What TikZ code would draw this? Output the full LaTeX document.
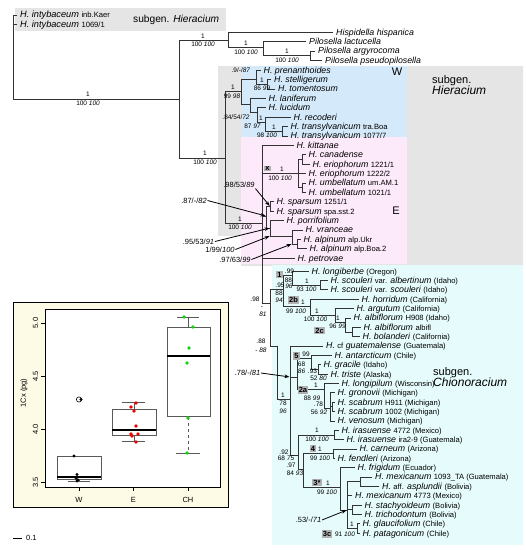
\documentclass[tikz,border=0pt]{standalone}
\usepackage{fontspec}
\setmainfont{Liberation Sans}
\usetikzlibrary{arrows.meta}

\definecolor{hiergray}{RGB}{229,229,229}
\definecolor{wblue}{RGB}{212,234,250}
\definecolor{epink}{RGB}{252,233,250}
\definecolor{chcyan}{RGB}{230,251,251}
\definecolor{cream}{RGB}{253,251,229}
\definecolor{cladegray}{RGB}{178,178,178}
\definecolor{dotred}{RGB}{240,0,0}
\definecolor{dotgreen}{RGB}{20,210,20}

\newcommand{\tx}[1]{\textit{#1}}
\newcommand{\nt}[1]{{\fontsize{7.6}{8}\selectfont #1}}
\newcommand{\sgname}[1]{{\fontsize{12}{12}\selectfont\textit{#1}}}

\tikzset{
  leaf/.style={anchor=west,inner xsep=3pt,inner ysep=0pt,text height=6pt,text depth=0pt,
    font=\fontsize{8.8}{9}\selectfont},
  supp/.style={inner sep=0pt,font=\fontsize{6.5}{7}\selectfont},
  clade/.style={fill=cladegray,inner sep=1.2pt,font=\bfseries\fontsize{7.5}{8}\selectfont},
  subg/.style={inner sep=0pt,font=\fontsize{11}{11.5}\selectfont},
  branch/.style={line width=.6pt,black!80,line cap=rect},
  pointer/.style={line width=.8pt,-{Stealth[length=5pt,width=3.6pt]},shorten >=.5pt},
  ptlab/.style={inner sep=.6pt,font=\fontsize{7.5}{8}\selectfont},
  axlab/.style={inner sep=0pt,font=\fontsize{7.5}{8}\selectfont},
  boxl/.style={line width=.6pt,black!65},
}

\begin{document}
\begin{tikzpicture}[x=1pt,y=-1pt]
\useasboundingbox (0,0) rectangle (526,550);

% shaded groups
\fill[hiergray] (15,8) rectangle (226,31);
\fill[hiergray] (218,66) -- (523,66) -- (523,266) -- (241,266) -- (241,236) -- (218,236) -- cycle;
\fill[wblue] (242,66) rectangle (407,137);
\fill[epink] (241,137) rectangle (407,264);
\fill[chcyan] (272,265) rectangle (523,545);

\node[subg,anchor=west,font=\fontsize{10.2}{11}\selectfont] (sgtop) at (133,19.5) {subgen. \textit{Hieracium}};
\node[subg,anchor=north west,align=left] (sghier) at (432,75) {subgen.\\\sgname{Hieracium}};
\node[subg,anchor=north west,align=left] (sgchio) at (433,367) {subgen.\\\sgname{Chionoracium}};
\node[subg] (lw) at (397,72) {W};
\node[subg] (le) at (396,210.5) {E};

% internal nodes
\coordinate (root) at (13,24.2);
\coordinate (nA) at (179,99);
\coordinate (nP0) at (228,40);
\coordinate (nP1) at (263,47.5);
\coordinate (nP2) at (310,55.4);
\coordinate (nH) at (225,158);
\coordinate (nW) at (241,91.5);
\coordinate (nWp) at (256,79.4);
\coordinate (nWs) at (267,84.1);
\coordinate (nWl) at (250,104);
\coordinate (nWm) at (257,112);
\coordinate (nWr) at (265,122);
\coordinate (nWt) at (282,131.1);
\coordinate (nE) at (262,223);
\coordinate (nX) at (298,173.4);
\coordinate (nCa) at (302,159.3);
\coordinate (nU) at (302,187.5);
\coordinate (nSp) at (270,206.3);
\coordinate (nEa) at (266,216);
\coordinate (nEb) at (270,228);
\coordinate (nEc) at (292,236);
\coordinate (nAlp) at (297,243.9);
\coordinate (nC0) at (270,303);
\coordinate (nCu) at (283,289);
\coordinate (n1) at (292,275.5);
\coordinate (nSc) at (320,285);
\coordinate (n2b) at (310,306);
\coordinate (n2b1) at (335,315);
\coordinate (n2b2) at (345,322);
\coordinate (n2c) at (352,331.9);
\coordinate (nCl) at (277,345.9);
\coordinate (nL) at (290,399);
\coordinate (nC52) at (297,377);
\coordinate (n5) at (311,358);
\coordinate (nGt) at (318,369.3);
\coordinate (n2a) at (324,389.5);
\coordinate (nGr) at (330,408);
\coordinate (nScb) at (332.5,406.7);
\coordinate (nLo) at (298,455);
\coordinate (nIr) at (334,434.8);
\coordinate (n34) at (303,469);
\coordinate (n4) at (333,453.5);
\coordinate (n3) at (340,487);
\coordinate (nM) at (347,510);
\coordinate (nMx) at (360,481.6);
\coordinate (nSt) at (352,509.7);
\coordinate (n3c) at (357,528.4);

% outgroups
\node[leaf,font=\fontsize{9.2}{9}\selectfont] (inb) at (17,14.8) {\tx{H. intybaceum} \nt{inb.Kaer}};
\node[leaf,font=\fontsize{9.2}{9}\selectfont] (i1069) at (17,24.2) {\tx{H. intybaceum} \nt{1069/1}};
\node[leaf] (hisp) at (333,32.3) {\tx{Hispidella hispanica}};
\node[leaf] (plac) at (306,41.5) {\tx{Pilosella lactucella}};
\node[leaf] (parg) at (315,50.8) {\tx{Pilosella argyrocoma}};
\node[leaf] (ppse) at (322,60) {\tx{Pilosella pseudopilosella}};

% W
\node[leaf] (pren) at (260.5,70) {\tx{H. prenanthoides}};
\node[leaf] (stel) at (271,79.4) {\tx{H. stelligerum}};
\node[leaf] (tome) at (275,88.8) {\tx{H. tomentosum}};
\node[leaf] (lani) at (265.5,98.2) {\tx{H. laniferum}};
\node[leaf] (luci) at (265.5,107.6) {\tx{H. lucidum}};
\node[leaf] (reco) at (290.5,117) {\tx{H. recoderi}};
\node[leaf] (trab) at (287.5,126.4) {\tx{H. transylvanicum} \nt{tra.Boa}};
\node[leaf] (tr77) at (287.5,135.8) {\tx{H. transylvanicum} \nt{1077/7}};

% E
\node[leaf] (kitt) at (293.5,145.2) {\tx{H. kittanae}};
\node[leaf] (cana) at (305.5,154.6) {\tx{H. canadense}};
\node[leaf] (er21) at (309.5,164) {\tx{H. eriophorum} \nt{1221/1}};
\node[leaf] (er22) at (305.5,173.4) {\tx{H. eriophorum} \nt{1222/2}};
\node[leaf] (umam) at (305.5,182.8) {\tx{H. umbellatum} \nt{um.AM.1}};
\node[leaf] (um21) at (305.5,192.2) {\tx{H. umbellatum} \nt{1021/1}};
\node[leaf] (sp51) at (273.5,201.6) {\tx{H. sparsum} \nt{1251/1}};
\node[leaf] (spss) at (273.5,211) {\tx{H. sparsum} \nt{spa.sst.2}};
\node[leaf] (porr) at (283.5,220.4) {\tx{H. porrifolium}};
\node[leaf] (vran) at (302.5,229.8) {\tx{H. vranceae}};
\node[leaf] (alpu) at (300.5,239.2) {\tx{H. alpinum} \nt{alp.Ukr}};
\node[leaf] (alpb) at (306.5,248.6) {\tx{H. alpinum} \nt{alp.Boa.2}};
\node[leaf] (petr) at (294.5,258) {\tx{H. petrovae}};

% Chionoracium
\node[leaf] (long) at (308.5,271) {\tx{H. longiberbe} \nt{(Oregon)}};
\node[leaf] (albe) at (327.5,280.4) {\tx{H. scouleri} \nt{var.} \tx{albertinum} \nt{(Idaho)}};
\node[leaf] (scou) at (327.5,289.7) {\tx{H. scouleri} \nt{var.} \tx{scouleri} \nt{(Idaho)}};
\node[leaf] (horr) at (358.5,299.1) {\tx{H. horridum} \nt{(California)}};
\node[leaf] (argu) at (353.5,308.4) {\tx{H. argutum} \nt{(California)}};
\node[leaf] (a908) at (350.5,317.8) {\tx{H. albiflorum} \nt{H908 (Idaho)}};
\node[leaf] (aalb) at (360.5,327.2) {\tx{H. albiflorum} \nt{albifl}};
\node[leaf] (bola) at (359.5,336.5) {\tx{H. bolanderi} \nt{(California)}};
\node[leaf] (guat) at (323,345.9) {\tx{H.} \nt{cf} \tx{guatemalense} \nt{(Guatemala)}};
\node[leaf] (anta) at (331.5,355.2) {\tx{H. antarcticum} \nt{(Chile)}};
\node[leaf] (grac) at (320.5,364.6) {\tx{H. gracile} \nt{(Idaho)}};
\node[leaf] (tris) at (327.5,374) {\tx{H. triste} \nt{(Alaska)}};
\node[leaf] (lopi) at (338.5,383.3) {\tx{H. longipilum} \nt{(Wisconsin)}};
\node[leaf] (gron) at (334.5,392.7) {\tx{H. gronovii} \nt{(Michigan)}};
\node[leaf] (sc11) at (334.5,402) {\tx{H. scabrum} \nt{H911 (Michigan)}};
\node[leaf] (sc02) at (334.5,411.4) {\tx{H. scabrum} \nt{1002 (Michigan)}};
\node[leaf] (veno) at (334.5,420.8) {\tx{H. venosum} \nt{(Michigan)}};
\node[leaf] (ir72) at (338.5,430.1) {\tx{H. irasuense} \nt{4772 (Mexico)}};
\node[leaf] (ir29) at (343.5,439.5) {\tx{H. irasuense} \nt{ira2-9 (Guatemala)}};
\node[leaf] (carn) at (356.5,448.8) {\tx{H. carneum} \nt{(Arizona)}};
\node[leaf] (fend) at (334.5,458.2) {\tx{H. fendleri} \nt{(Arizona)}};
\node[leaf] (frig) at (354.5,467.6) {\tx{H. frigidum} \nt{(Ecuador)}};
\node[leaf] (mx93) at (372,476.9) {\tx{H. mexicanum} \nt{1093\_TA (Guatemala)}};
\node[leaf] (aspl) at (379,486.3) {\tx{H.} \nt{aff.} \tx{asplundii} \nt{(Bolivia)}};
\node[leaf] (mx73) at (352,495.6) {\tx{H. mexicanum} \nt{4773 (Mexico)}};
\node[leaf] (stac) at (361.5,505) {\tx{H. stachyoideum} \nt{(Bolivia)}};
\node[leaf] (tric) at (361.5,514.4) {\tx{H. trichodontum} \nt{(Bolivia)}};
\node[leaf] (glau) at (359.5,523.7) {\tx{H. glaucifolium} \nt{(Chile)}};
\node[leaf] (pata) at (359.5,533.1) {\tx{H. patagonicum} \nt{(Chile)}};

% branches
\draw[branch] (root) |- (inb.west) (root) |- (i1069.west) (root) |- (nA);
\draw[branch] (nA) |- (nP0) (nA) |- (nH);
\draw[branch] (nP0) |- (hisp.west) (nP0) |- (nP1);
\draw[branch] (nP1) |- (plac.west) (nP1) |- (nP2);
\draw[branch] (nP2) |- (parg.west) (nP2) |- (ppse.west);
\draw[branch] (nH) |- (nW) (nH) |- (nE);
\draw[branch] (nW) |- (nWp) (nW) |- (nWl);
\draw[branch] (nWp) |- (pren.west) (nWp) |- (nWs);
\draw[branch] (nWs) |- (stel.west) (nWs) |- (tome.west);
\draw[branch] (nWl) |- (lani.west) (nWl) |- (nWm);
\draw[branch] (nWm) |- (luci.west) (nWm) |- (nWr);
\draw[branch] (nWr) |- (reco.west) (nWr) |- (nWt);
\draw[branch] (nWt) |- (trab.west) (nWt) |- (tr77.west);
\draw[branch] (nE) |- (kitt.west) (nE) |- (nX) (nE) |- (nEa) (nE) |- (petr.west) (nE) |- (nC0);
\draw[branch] (nX) |- (nCa) (nX) |- (er22.west) (nX) |- (nU);
\draw[branch] (nCa) |- (cana.west) (nCa) |- (er21.west);
\draw[branch] (nU) |- (umam.west) (nU) |- (um21.west);
\draw[branch] (nEa) |- (nSp) (nEa) |- (nEb);
\draw[branch] (nSp) |- (sp51.west) (nSp) |- (spss.west);
\draw[branch] (nEb) |- (porr.west) (nEb) |- (nEc);
\draw[branch] (nEc) |- (vran.west) (nEc) |- (nAlp);
\draw[branch] (nAlp) |- (alpu.west) (nAlp) |- (alpb.west);
\draw[branch] (nC0) |- (nCu) (nC0) |- (nCl);
\draw[branch] (nCu) |- (n1) (nCu) |- (n2b);
\draw[branch] (n1) |- (long.west) (n1) |- (nSc);
\draw[branch] (nSc) |- (albe.west) (nSc) |- (scou.west);
\draw[branch] (n2b) |- (horr.west) (n2b) |- (n2b1);
\draw[branch] (n2b1) |- (argu.west) (n2b1) |- (n2b2);
\draw[branch] (n2b2) |- (a908.west) (n2b2) |- (n2c);
\draw[branch] (n2c) |- (aalb.west) (n2c) |- (bola.west);
\draw[branch] (nCl) |- (nL);
\draw[branch] (nL) |- (guat.west) (nL) |- (nC52) (nL) |- (nLo);
\draw[branch] (nC52) |- (n5) (nC52) |- (n2a);
\draw[branch] (n5) |- (anta.west) (n5) |- (nGt);
\draw[branch] (nGt) |- (grac.west) (nGt) |- (tris.west);
\draw[branch] (n2a) |- (lopi.west) (n2a) |- (nGr);
\draw[branch] (nGr) |- (gron.west) (nGr) |- (nScb) (nGr) |- (veno.west);
\draw[branch] (nScb) |- (sc11.west) (nScb) |- (sc02.west);
\draw[branch] (nLo) |- (nIr) (nLo) |- (n34);
\draw[branch] (nIr) |- (ir72.west) (nIr) |- (ir29.west);
\draw[branch] (n34) |- (n4) (n34) |- (n3);
\draw[branch] (n4) |- (carn.west) (n4) |- (fend.west);
\draw[branch] (n3) |- (frig.west) (n3) |- (nM);
\draw[branch] (nM) |- (nMx) (nM) |- (mx73.west) (nM) |- (nSt) (nM) |- (n3c);
\draw[branch] (nMx) |- (mx93.west) (nMx) |- (aspl.west);
\draw[branch] (nSt) |- (stac.west) (nSt) |- (tric.west);
\draw[branch] (n3c) |- (glau.west) (n3c) |- (pata.west);

% support values
\node[supp] (sRa) at (88,94.5) {1};
\node[supp] (sRb) at (88,103.5) {100 \tx{100}};
\node[supp] (sP0a) at (203,36) {1};
\node[supp] (sP0b) at (203,44.5) {100 \tx{100}};
\node[supp] (sP1a) at (246,43.5) {1};
\node[supp] (sP1b) at (246,52) {100 \tx{100}};
\node[supp] (sP2a) at (287,51) {1};
\node[supp] (sP2b) at (287,60) {100 \tx{100}};
\node[supp] (sHa) at (205,153.5) {1};
\node[supp] (sHb) at (205,162.5) {100 \tx{100}};
\node[supp] (sWa) at (233,87.5) {1};
\node[supp] (sWb) at (232,96) {99 \tx{98}};
\node[supp] (sWp) at (241,70) {.9/-/\tx{87}};
\node[supp] (sWsa) at (262,80.5) {1};
\node[supp] (sWsb) at (262,88.5) {86 \tx{99}};
\node[supp] (sWl) at (236,117.5) {.84/54/\tx{72}};
\node[supp] (sWra) at (261,118.5) {1};
\node[supp] (sWrb) at (252.5,126.5) {87 \tx{97}};
\node[supp] (sWta) at (274,127.5) {1};
\node[supp] (sWtb) at (267,135.5) {98 \tx{100}};
\node[supp] (sEa) at (240,219) {1};
\node[supp] (sEb) at (240,227.5) {100 \tx{100}};
\node[clade,inner sep=1pt] (bx) at (267.5,168.5) {x};
\node[supp] (sXa) at (282,169.5) {1};
\node[supp] (sXb) at (280,178) {100 \tx{100}};

\node[supp] (sC0a) at (255,299) {.98};
\node[supp] (sC0b) at (262,307.5) {-};
\node[supp] (sC0c) at (263,314.5) {\tx{81}};
\node[supp] (sCua) at (280,285.5) {.95};
\node[supp] (sCub) at (279,293.5) {88};
\node[supp] (sCuc) at (279,300.5) {\tx{94}};
\node[clade] (b1) at (279.5,274.5) {1};
\node[supp] (s1a) at (289.5,271.5) {.99};
\node[supp] (s1b) at (288.5,280) {88};
\node[supp] (s1c) at (289,286.5) {\tx{96}};
\node[supp] (sSca) at (307,281) {1};
\node[supp] (sScb) at (306.5,289.5) {93 \tx{100}};
\node[clade] (b2b) at (293.5,300) {2b};
\node[supp] (s2ba) at (303,302) {1};
\node[supp] (s2bb) at (296,311) {99 \tx{100}};
\node[supp] (s2b1a) at (317,311) {1};
\node[supp] (s2b1b) at (315.5,319.5) {100 \tx{100}};
\node[supp] (s2b2a) at (338,318.5) {1};
\node[supp] (s2b2b) at (337.5,326.5) {96 \tx{99}};
\node[clade] (b2c) at (319.5,330.5) {2c};
\node[supp] (sCla) at (261,341) {.88};
\node[supp] (sClb) at (261,350) {- \tx{88}};
\node[supp] (sLa) at (283,395) {1};
\node[supp] (sLb) at (283,403) {78};
\node[supp] (sLc) at (283,411) {\tx{96}};
\node[clade] (b5) at (296.5,356) {5};
\node[supp] (s5a) at (306,354) {99};
\node[supp] (s5b) at (301.5,364.5) {68};
\node[supp] (s5c) at (301.5,371) {\tx{86}};
\node[supp] (sGta) at (312.5,371.5) {.93};
\node[supp] (sGtb) at (318.5,378.3) {52 \tx{80}};
\node[clade] (b2a) at (303,390) {2a};
\node[supp] (s2aa) at (316,385.6) {1};
\node[supp] (s2ab) at (312,398) {88 \tx{99}};
\node[supp] (sGra) at (318.5,404.5) {.78};
\node[supp] (sGrb) at (319,412) {56 \tx{92}};
\node[supp] (sIra) at (317,430.5) {1};
\node[supp] (sIrb) at (317,439.5) {100 \tx{100}};
\node[supp] (sLoa) at (284,452) {.92};
\node[supp] (sLob) at (286,458.5) {68 \tx{75}};
\node[clade] (b4) at (313,448.5) {4};
\node[supp] (s4a) at (320,449) {1};
\node[supp] (s4b) at (320,458.5) {99 \tx{100}};
\node[supp] (s34a) at (291,465) {.97};
\node[supp] (s34b) at (295,473) {84 \tx{93}};
\node[clade] (b3) at (317,482.5) {3*};
\node[supp] (s3a) at (328,483) {1};
\node[supp] (s3b) at (327,492) {99 \tx{100}};
\node[clade] (b3c) at (327,534) {3c};
\node[supp] (s3ca) at (352,524.5) {1};
\node[supp] (s3cb) at (345,534) {91 \tx{100}};

% labelled pointers
\node[ptlab] (p98) at (239,185) {.98/53/\tx{89}};
\node[ptlab] (p87) at (194,200.5) {.87/-/\tx{82}};
\node[ptlab] (p95) at (198.5,241.5) {.95/53/\tx{91}};
\node[ptlab] (p1) at (220,249.5) {1/99/\tx{100}};
\node[ptlab] (p97) at (235,259.5) {.97/63/\tx{99}};
\node[ptlab] (p78) at (247.5,373) {.78/-/\tx{81}};
\node[ptlab] (p53) at (308.5,520) {.53/-/\tx{71}};
\draw[pointer] (p98.south east) -- (nSp);
\draw[pointer] (p87.east) -- (nEa);
\draw[pointer] (p95.east) -- (nEb);
\draw[pointer] (p1.east) -- (nEb |- nEc);
\draw[pointer] (p97.east) -- (nEc |- nAlp);
\draw[pointer] (p78.east) -- (nL |- nC52);
\draw[pointer] (p53.east) -- (nM);

% genome size boxplot
\draw[line width=.7pt,fill=cream] (13,302) rectangle (228,507);
\draw[line width=.7pt,fill=white] (45,309) rectangle (220,487);
\draw[line width=.5pt] (45,323) -- (41,323) (45,376.2) -- (41,376.2)
  (45,429.3) -- (41,429.3) (45,482.5) -- (41,482.5);
\draw[line width=.5pt] (79,487) -- (79,491) (133.5,487) -- (133.5,491) (188,487) -- (188,491);
\node[axlab,rotate=90] (t50) at (35.5,323) {5.0};
\node[axlab,rotate=90] (t45) at (35.5,376.2) {4.5};
\node[axlab,rotate=90] (t40) at (35.5,429.3) {4.0};
\node[axlab,rotate=90] (t35) at (35.5,482.5) {3.5};
\node[axlab,rotate=90] (ylab) at (24,393) {1Cx (pg)};
\node[axlab] (xw) at (79,499.5) {W};
\node[axlab] (xe) at (133.5,499.5) {E};
\node[axlab] (xch) at (188,499.5) {CH};
% W
\draw[boxl] (57,456) rectangle (101,479);
\draw[line width=1.6pt] (57,477) -- (101,477);
\draw[boxl] (79,479) -- (79,481) (68,481) -- (90,481);
\draw[line width=.6pt] (79,399.5) circle (2.6pt);
\fill (81,399.5) circle (1.7pt) (74,456) circle (1.7pt) (77,474.5) circle (1.7pt)
  (76,478) circle (1.7pt) (78,480) circle (1.7pt) (77,481) circle (1.7pt);
% E
\draw[boxl] (112,409.3) rectangle (156,435.7);
\draw[line width=1.6pt] (112,430) -- (156,430);
\draw[boxl] (134,409.3) -- (134,402.7) (122,402.7) -- (145,402.7);
\draw[boxl] (134,435.7) -- (134,441.7) (122,441.7) -- (145,441.7);
\fill[dotred] (136,403) circle (1.8pt) (131,407) circle (1.8pt) (134,411) circle (1.8pt)
  (136,426) circle (1.8pt) (131,434) circle (1.8pt) (132,436) circle (1.8pt)
  (138,434) circle (1.8pt) (136,442) circle (1.8pt);
% CH
\draw[boxl] (167,327.3) rectangle (210,416.7);
\draw[line width=1.6pt] (167,356) -- (210,356);
\draw[boxl] (188,327.3) -- (188,317) (177,317) -- (199,317);
\draw[boxl,dashed] (188,416.7) -- (188,453);
\draw[boxl] (176,453) -- (200,453);
\fill[dotgreen] (184,317) circle (1.8pt) (193,327) circle (1.8pt) (189,348) circle (1.8pt)
  (187,363) circle (1.8pt) (188,418) circle (1.8pt) (187,453) circle (1.8pt);

% scale bar
\draw[line width=.7pt] (13,538) -- (22,538);
\node[axlab,anchor=west] (sbar) at (26,538) {0.1};
\end{tikzpicture}
\end{document}
